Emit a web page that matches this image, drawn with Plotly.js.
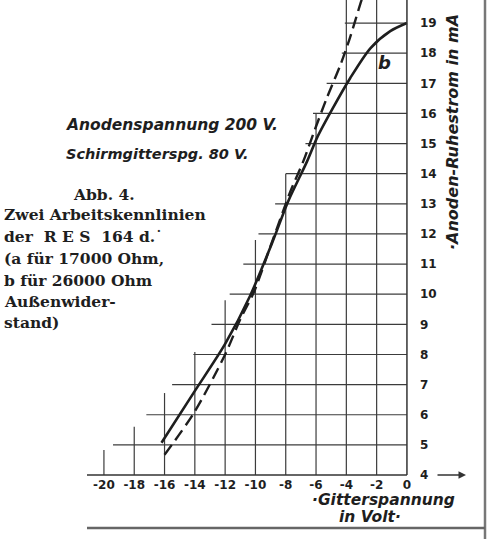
<!DOCTYPE html>
<html>
<head>
<meta charset="utf-8">
<script src="https://cdn.plot.ly/plotly-3.0.1.min.js"></script>
<style>html,body{margin:0;padding:0;background:#fff;}#chart{width:493px;height:539px;}</style>
</head>
<body>
<div id="chart"></div>
<script>
// ---- data ----
// curve a (17000 Ohm), dashed
var aX = [-16.0, -14.05, -12.0, -11.0, -10.1, -9.0, -7.7, -6.85, -6.05, -5.3, -4.4, -3.8, -3.0, -2.6];
var aY = [4.67, 6.07, 8.0, 9.17, 10.07, 11.6, 13.4, 14.4, 15.5, 16.5, 17.6, 18.45, 19.75, 20.3];
// curve b (26000 Ohm), solid
var bX = [-16.2, -14.05, -12.0, -10.35, -8.8, -7.85, -6.6, -5.9, -4.9, -3.75, -2.4, -1.1, 0];
var bY = [5.07, 6.75, 8.35, 9.95, 11.83, 13.07, 14.4, 15.23, 16.17, 17.17, 18.17, 18.73, 19.0];
// axis ticks
var xTicks = [-20, -18, -16, -14, -12, -10, -8, -6, -4, -2, 0];
var xTickText = ["-20", "-18", "-16", "-14", "-12", "-10", "-8", "-6", "-4", "-2", "0"];
var yTicks = [4, 5, 6, 7, 8, 9, 10, 11, 12, 13, 14, 15, 16, 17, 18, 19];
var yTickText = ["4", "5", "6", "7", "8", "9", "10", "11", "12", "13", "14", "15", "16", "17", "18", "19"];
// staircase grid: horizontal lines (y) start at x, vertical lines (x) end at y
var hGridY = [5, 6, 7, 8, 9, 10, 11, 12, 13, 14, 15, 16, 17, 18, 19];
var hGridStart = [-19.4, -17.2, -15.5, -14.1, -12.9, -11.7, -10.8, -9.8, -8.7, -8.0, -6.7, -6.2, -5.3, -4.3, -4.1];
var vGridX = [-20, -18, -16, -14, -12, -10, -8, -6, -4, -2];
var vGridTop = [4.83, 5.6, 6.72, 8.08, 9.8, 11.8, 14.0, 16.0, 21, 21];

// ---- geometry ----
var W = 493, H = 539;
var xRange = [-26.86, 5.68];
var yRange = [1.876, 19.765];
function px2x(p){ return xRange[0] + p / W * (xRange[1] - xRange[0]); }
function paperY(p){ return 1 - p / H; }
function paperX(p){ return p / W; }

var ink = '#1e1e1e';
var gridCol = '#3c3c3c';
var shapes = [];
hGridY.forEach(function(y, i){
  shapes.push({type:'line', xref:'x', yref:'y', x0:hGridStart[i], x1:0, y0:y, y1:y,
    line:{color:gridCol, width:1.2}, layer:'below'});
});
vGridX.forEach(function(x, i){
  shapes.push({type:'line', xref:'x', yref:'y', x0:x, x1:x, y0:4, y1:vGridTop[i],
    line:{color:gridCol, width:1.2}, layer:'below'});
});
// baseline and right axis
shapes.push({type:'line', xref:'x', yref:'y', x0:px2x(87), x1:0, y0:4, y1:4, line:{color:'#333', width:1.5}});
shapes.push({type:'line', xref:'x', yref:'y', x0:0, x1:0, y0:4, y1:21, line:{color:'#333', width:1.5}});
// frame lines (page border)
shapes.push({type:'line', xref:'paper', yref:'paper', x0:paperX(485), x1:paperX(485), y0:0, y1:1, line:{color:'#777', width:2.5}});
shapes.push({type:'line', xref:'paper', yref:'paper', x0:paperX(87), x1:paperX(485), y0:paperY(528), y1:paperY(528), line:{color:'#666', width:2.5}});

var hand = {family:'DejaVu Sans', size:13, color:ink, weight:'bold', style:'italic'};
var serif = {family:'DejaVu Serif', size:15.5, color:ink, weight:'bold'};
var nb = '\u00A0';

function leftLine(txt, py){
  return {xref:'paper', yref:'paper', x:paperX(2), y:paperY(py), xanchor:'left', yanchor:'middle', showarrow:false,
    text:txt, font:serif};
}

var annotations = [
  {xref:'paper', yref:'paper', x:paperX(64), y:paperY(125), xanchor:'left', yanchor:'middle', showarrow:false,
   text:'Anodenspannung 200 V.', font:Object.assign({}, hand, {size:15.5})},
  {xref:'paper', yref:'paper', x:paperX(64), y:paperY(154), xanchor:'left', yanchor:'middle', showarrow:false,
   text:'Schirmgitterspg. 80 V.', font:Object.assign({}, hand, {size:14.5})},
  {xref:'paper', yref:'paper', x:paperX(104), y:paperY(194), xanchor:'center', yanchor:'middle', showarrow:false,
   text:'Abb. 4.', font:serif},
  leftLine('Zwei Arbeitskennlinien', 214),
  leftLine('der' + nb + nb + 'R' + nb + 'E' + nb + 'S' + nb + nb + '164' + nb + 'd.\u02D9', 236),
  leftLine('(a für 17000 Ohm,', 258),
  leftLine('b für 26000 Ohm', 280),
  leftLine('Außenwider-', 301),
  leftLine('stand)', 322),
  // curve label b
  {xref:'paper', yref:'paper', x:paperX(384), y:paperY(62), xanchor:'center', yanchor:'middle', showarrow:false,
   text:'b', font:Object.assign({}, hand, {size:18})},
  // x axis title
  {xref:'paper', yref:'paper', x:paperX(383), y:paperY(500), xanchor:'center', yanchor:'middle', showarrow:false,
   text:'·Gitterspannung', font:Object.assign({}, hand, {size:15.5})},
  {xref:'paper', yref:'paper', x:paperX(370), y:paperY(517), xanchor:'center', yanchor:'middle', showarrow:false,
   text:'in Volt·', font:Object.assign({}, hand, {size:15.5})},
  // y axis title (rotated)
  {xref:'paper', yref:'paper', x:paperX(453), y:paperY(252), xanchor:'center', yanchor:'bottom', showarrow:false,
   textangle:-90, text:'·Anoden-Ruhestrom in mA', font:Object.assign({}, hand, {size:16})},
  // arrow after "4"
  {xref:'x', yref:'y', x:px2x(466), y:4, axref:'x', ayref:'y', ax:px2x(436), ay:4, text:'', showarrow:true,
   arrowhead:2, arrowsize:1, arrowwidth:1.5, arrowcolor:'#333'}
];

var traces = [
  {x:bX, y:bY, type:'scatter', mode:'lines', name:'b (26000 Ohm)',
   line:{color:ink, width:2.6, shape:'spline', smoothing:0.8}},
  {x:aX, y:aY, type:'scatter', mode:'lines', name:'a (17000 Ohm)',
   line:{color:ink, width:2.4, dash:'12px,6px', shape:'spline', smoothing:0.8}}
];

var layout = {
  width:W, height:H,
  margin:{l:0, r:0, t:0, b:0, pad:0},
  paper_bgcolor:'#fff', plot_bgcolor:'#fff',
  showlegend:false,
  xaxis:{range:xRange, anchor:'free', position:paperY(475), showgrid:false, zeroline:false, showline:false,
    tickmode:'array', tickvals:xTicks, ticktext:xTickText, ticks:'', ticklabelstandoff:1,
    tickfont:{family:'DejaVu Sans', size:12, color:ink, weight:'bold'}, fixedrange:true},
  yaxis:{range:yRange, anchor:'free', position:paperX(407), side:'right', showgrid:false, zeroline:false, showline:false,
    tickmode:'array', tickvals:yTicks, ticktext:yTickText, ticks:'', ticklabelstandoff:12,
    tickfont:{family:'DejaVu Sans', size:12, color:ink, weight:'bold'}, fixedrange:true},
  shapes:shapes,
  annotations:annotations
};

Plotly.newPlot('chart', traces, layout, {displayModeBar:false, staticPlot:true});
</script>
</body>
</html>
